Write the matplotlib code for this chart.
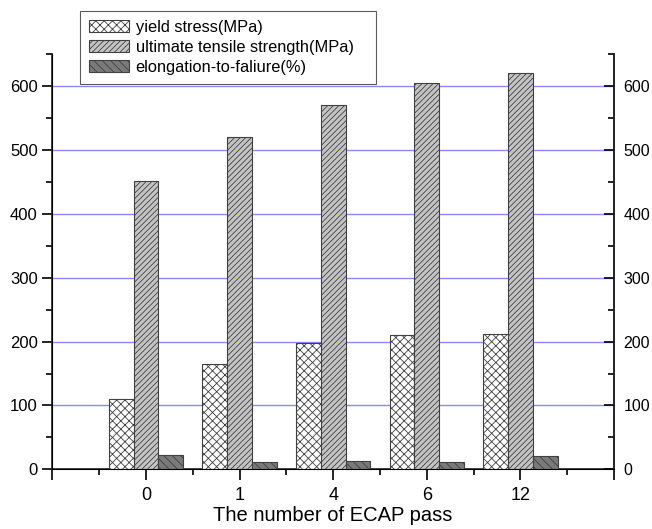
import matplotlib
matplotlib.use("Agg")
import matplotlib.pyplot as plt
import numpy as np
from matplotlib.ticker import MultipleLocator

categories = ["0", "1", "4", "6", "12"]
yield_stress = [110, 165, 198, 210, 212]
uts = [452, 520, 570, 605, 620]
elongation = [22, 11, 13, 12, 21]

plt.rcParams['font.family'] = ['Liberation Sans', 'DejaVu Sans']
plt.rcParams['hatch.linewidth'] = 0.6

fig = plt.figure(figsize=(6.52, 5.29), dpi=100)
ax = fig.add_axes([0.0802, 0.1129, 0.9417 - 0.0802, 0.8974 - 0.1129])

x = np.arange(1, len(categories) + 1)
w = 0.265
ec = '#404040'
b1 = ax.bar(x - w, yield_stress, w, facecolor='white', edgecolor=ec, hatch='xxxx', linewidth=0.8,
            label='yield stress(MPa)', zorder=3)
b2 = ax.bar(x, uts, w, facecolor='#c4c4c4', edgecolor=ec, hatch='//////', linewidth=0.8,
            label='ultimate tensile strength(MPa)', zorder=3)
b3 = ax.bar(x + w, elongation, w, facecolor='#7a7a7a', edgecolor=ec, hatch='\\\\\\\\', linewidth=0.8,
            label='elongation-to-faliure(%)', zorder=3)

ax.set_xlim(0, 6)
ax.set_ylim(0, 650)
ax.set_xticks(np.arange(0, 7))
ax.set_xticklabels([""] + categories + [""])
ax.xaxis.set_minor_locator(MultipleLocator(0.5))
ax.yaxis.set_major_locator(MultipleLocator(100))
ax.yaxis.set_minor_locator(MultipleLocator(50))

for yv in range(100, 700, 100):
    ax.axhline(yv, color='#8888ff', linewidth=1.0, zorder=1)

ax.spines['top'].set_visible(False)
for s in ['left', 'right', 'bottom']:
    ax.spines[s].set_linewidth(1.2)
    ax.spines[s].set_color('#222222')

ax.tick_params(axis='y', which='both', left=True, right=False, labelleft=True, labelright=False,
               direction='out', labelsize=12, width=1.2)
ax.tick_params(axis='y', which='major', length=7)
ax.tick_params(axis='y', which='minor', length=4)
ax.tick_params(axis='x', which='major', direction='out', length=8, width=1.2, labelsize=13, pad=5)
ax.tick_params(axis='x', which='minor', direction='out', length=4, width=1.2)

ax2 = ax.twinx()
ax2.set_ylim(ax.get_ylim())
ax2.yaxis.set_major_locator(MultipleLocator(100))
ax2.yaxis.set_minor_locator(MultipleLocator(50))
ax2.spines['top'].set_visible(False)
ax2.spines['right'].set_linewidth(1.2)
ax2.spines['right'].set_color('#222222')
ax2.tick_params(axis='y', which='both', direction='in', labelsize=11.5, width=1.2, pad=7)
ax2.tick_params(axis='y', which='major', length=7)
ax2.tick_params(axis='y', which='minor', length=4)

ax.set_xlabel("The number of ECAP pass", fontsize=14.5, labelpad=1)

leg = fig.legend(handles=[b1, b2, b3], loc='upper left',
                 bbox_to_anchor=(0.1227, 0.8437, 0.454, 0.1361), mode='expand',
                 bbox_transform=fig.transFigure, borderaxespad=0, frameon=True, fancybox=False,
                 fontsize=11.8, handlelength=2.45, handleheight=0.8, labelspacing=0.3,
                 handletextpad=0.4, borderpad=0.55)
leg.get_frame().set_edgecolor('#333333')
leg.get_frame().set_linewidth(0.8)

fig.savefig("out.png", dpi=100)
